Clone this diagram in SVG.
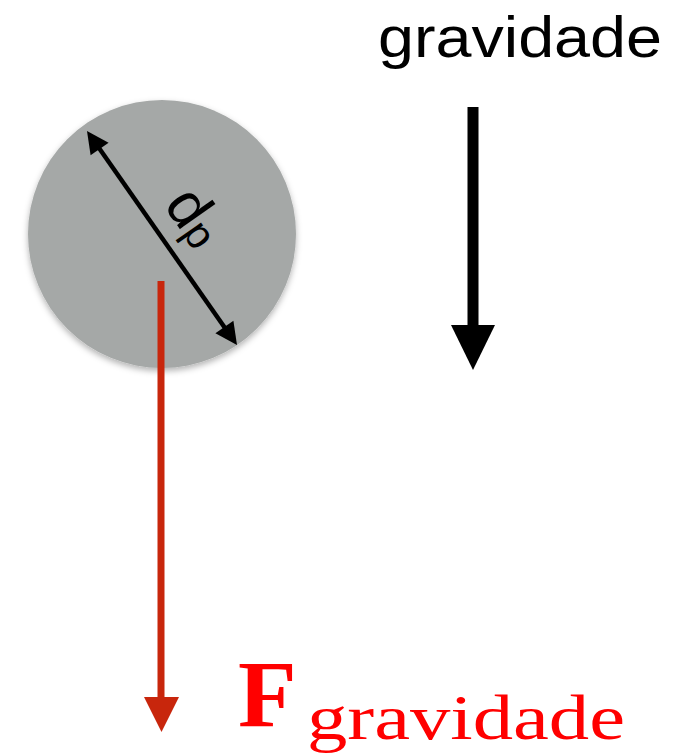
<svg xmlns="http://www.w3.org/2000/svg" width="700" height="754" viewBox="0 0 700 754">
  <defs>
    <filter id="shadow" x="-20%" y="-20%" width="140%" height="140%">
      <feDropShadow dx="0" dy="3" stdDeviation="3" flood-color="#000" flood-opacity="0.3"/>
    </filter>
  </defs>
  <style>
    .sans { font-family: "Liberation Sans", Arial, sans-serif; fill: #000; }
    .serif { font-family: "Liberation Serif", "Times New Roman", serif; fill: #ff0000; }
    .blk { fill: #000; }
    .red { fill: #c8260c; }
  </style>
  <rect width="700" height="754" fill="#ffffff"/>

  <g id="particle">
    <circle cx="162" cy="234" r="134" fill="#a5a8a7" filter="url(#shadow)"/>
  </g>

  <g id="connectors">
    <!-- diameter double arrow -->
    <line x1="99" y1="148" x2="225" y2="328" stroke="#000" stroke-width="4.5"/>
    <polygon class="blk" points="87,131 108.6,142.7 90.6,155.3"/>
    <polygon class="blk" points="237,345 233.4,320.7 215.4,333.3"/>
    <!-- red force arrow -->
    <line x1="161" y1="281" x2="161" y2="700" stroke="#c8260c" stroke-width="7"/>
    <polygon class="red" points="144,697 179,697 161.5,732"/>
    <!-- gravity arrow -->
    <line x1="473" y1="107" x2="473" y2="330" stroke="#000" stroke-width="11"/>
    <polygon class="blk" points="451,325 495,325 473,370"/>
  </g>

  <g id="label-dp">
    <text class="sans" transform="translate(163,205) rotate(55)" font-size="60">d<tspan font-size="42" dy="1">p</tspan></text>
  </g>

  <g id="label-gravidade">
    <text class="sans" x="378" y="57" font-size="58" textLength="284" lengthAdjust="spacingAndGlyphs">gravidade</text>
  </g>

  <g id="label-force">
    <text class="serif" x="238" y="727" font-size="96" font-weight="bold">F</text>
    <text class="serif" x="307" y="739" font-size="64" textLength="318" lengthAdjust="spacingAndGlyphs">gravidade</text>
  </g>
</svg>
